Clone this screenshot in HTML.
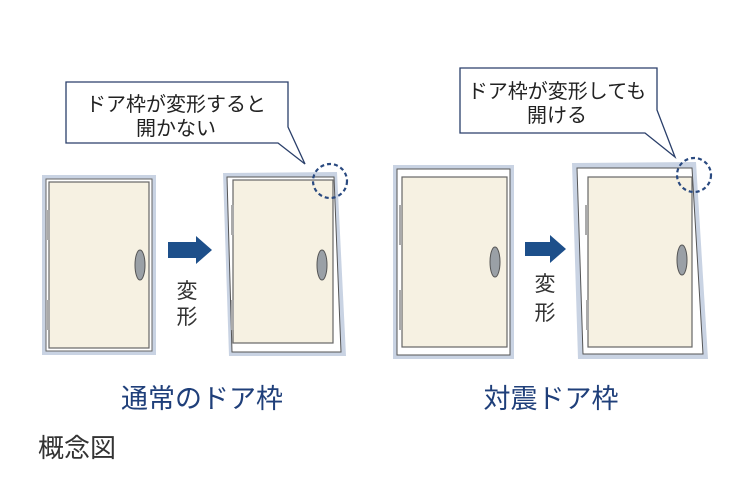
<!DOCTYPE html>
<html><head><meta charset="utf-8"><style>
html,body{margin:0;padding:0;background:#fff;}
svg{display:block;}
text{font-family:"Liberation Sans","Noto Sans CJK JP",sans-serif;}
</style></head><body>
<svg width="750" height="500" viewBox="0 0 750 500" xmlns="http://www.w3.org/2000/svg">
<rect width="750" height="500" fill="#fff"/>
<!-- Callout 1 -->
<path d="M66,82 H288 V127 L305,164 L278,143 H66 Z" fill="#fff" stroke="#2a3f6a" stroke-width="1.3"/>
<text x="176" y="111" font-size="20" text-anchor="middle" fill="#222">ドア枠が変形すると</text>
<text x="176" y="135" font-size="20" text-anchor="middle" fill="#222">開かない</text>
<!-- Door 1 -->
<rect x="42" y="175" width="114" height="180" fill="#c9d3e3"/>
<rect x="46" y="179" width="106" height="172" fill="#fff" stroke="#666" stroke-width="1"/>
<rect x="49" y="182" width="100" height="166" fill="#f6f1e2" stroke="#666" stroke-width="1.2"/>
<rect x="47" y="210" width="3" height="30" fill="#aaa"/>
<rect x="47" y="300" width="3" height="30" fill="#aaa"/>
<ellipse cx="140" cy="265" rx="5" ry="15" fill="#9aa0a6" stroke="#555"/>
<!-- Arrow 1 -->
<path d="M168,242 H196 V236 L212,250 L196,264 V258 H168 Z" fill="#1d4f8a"/>
<text x="187" y="298" font-size="21" text-anchor="middle" fill="#333">変</text>
<text x="187" y="324" font-size="21" text-anchor="middle" fill="#333">形</text>
<!-- Door 2 -->
<polygon points="223,173 337,172 346,356 229,356" fill="#c9d3e3"/>
<polygon points="227,177 334,177 341,352 232,352" fill="#fff" stroke="#555" stroke-width="1"/>
<rect x="233" y="180" width="100" height="163" fill="#f6f1e2" stroke="#666" stroke-width="1.2"/>
<rect x="231" y="205" width="3" height="30" fill="#aaa"/>
<rect x="231" y="300" width="3" height="30" fill="#aaa"/>
<ellipse cx="322" cy="265" rx="5" ry="15" fill="#9aa0a6" stroke="#555"/>
<circle cx="330" cy="181" r="17" fill="none" stroke="#2a4a80" stroke-width="2.2" stroke-dasharray="4,3"/>
<!-- Callout 2 -->
<path d="M460,68 H657 V110 L675,157 L645,133 H460 Z" fill="#fff" stroke="#2a3f6a" stroke-width="1.3"/>
<text x="557" y="98" font-size="20" text-anchor="middle" fill="#222">ドア枠が変形しても</text>
<text x="557" y="122" font-size="20" text-anchor="middle" fill="#222">開ける</text>
<!-- Door 3 -->
<rect x="393" y="165" width="121" height="194" fill="#c9d3e3"/>
<rect x="397" y="169" width="113" height="186" fill="#fff" stroke="#555" stroke-width="1"/>
<rect x="402" y="177" width="105" height="170" fill="#f6f1e2" stroke="#666" stroke-width="1.2"/>
<rect x="399" y="205" width="3" height="40" fill="#aaa"/>
<rect x="399" y="290" width="3" height="40" fill="#aaa"/>
<ellipse cx="495" cy="262" rx="5" ry="15" fill="#9aa0a6" stroke="#555"/>
<!-- Arrow 2 -->
<path d="M525,242 H550 V235 L566,249 L550,263 V256 H525 Z" fill="#1d4f8a"/>
<text x="545" y="291" font-size="21" text-anchor="middle" fill="#333">変</text>
<text x="545" y="320" font-size="21" text-anchor="middle" fill="#333">形</text>
<!-- Door 4 -->
<polygon points="572,163 696,162 708,359 578,359" fill="#c9d3e3"/>
<polygon points="577,168 692,168 703,354 583,354" fill="#fff" stroke="#555" stroke-width="1"/>
<rect x="588" y="177" width="104" height="170" fill="#f6f1e2" stroke="#666" stroke-width="1.2"/>
<rect x="585" y="205" width="3" height="30" fill="#aaa"/>
<rect x="586" y="300" width="3" height="30" fill="#aaa"/>
<ellipse cx="682" cy="260" rx="5" ry="15" fill="#9aa0a6" stroke="#555"/>
<circle cx="694" cy="175" r="17" fill="none" stroke="#2a4a80" stroke-width="2.2" stroke-dasharray="4,3"/>
<!-- Labels -->
<text x="202" y="408" font-size="27" text-anchor="middle" fill="#1f3f7a">通常のドア枠</text>
<text x="551" y="408" font-size="27" text-anchor="middle" fill="#1f3f7a">対震ドア枠</text>
<text x="38" y="457" font-size="26" fill="#333">概念図</text>
</svg>
</body></html>
